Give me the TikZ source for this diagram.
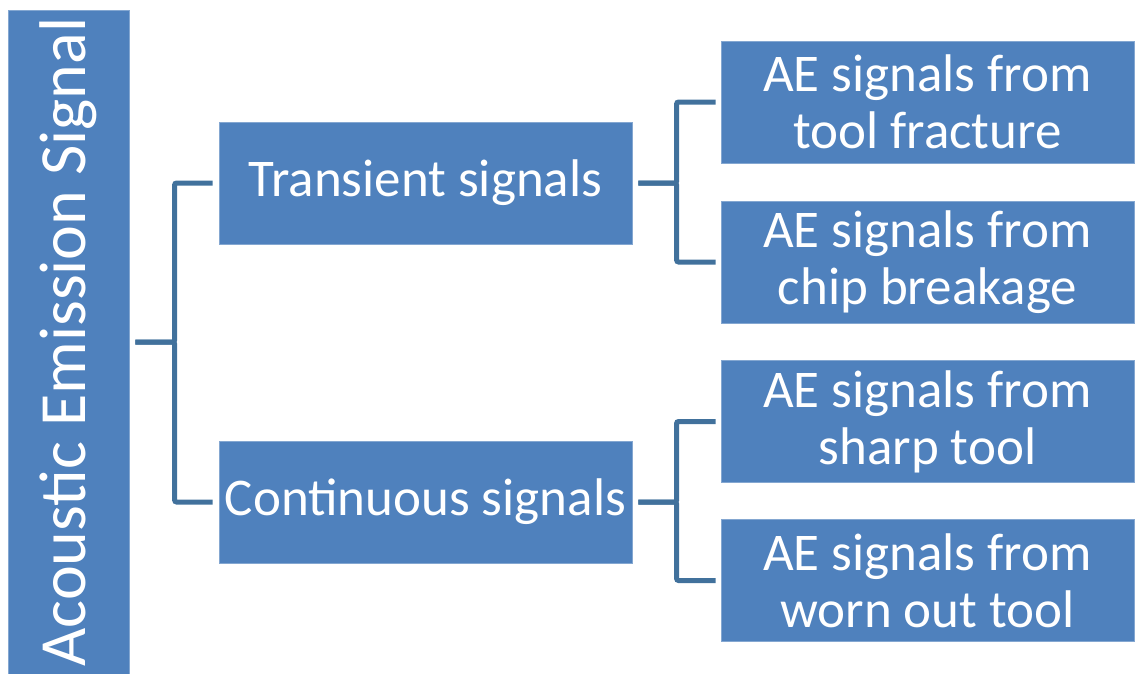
\documentclass[tikz,border=0pt]{standalone}
\usepackage{fontspec}
\setmainfont{Carlito}
\usepackage{xcolor}
\usetikzlibrary{positioning}
\definecolor{boxblue}{HTML}{4F81BD}
\definecolor{linkblue}{HTML}{41719C}

\begin{document}
\begin{tikzpicture}[
  x=1pt, y=-1pt,
  box/.style={fill=boxblue, draw=boxblue!70!white, line width=0.8pt, text=white, align=center,
    minimum width=413pt, minimum height=122pt, inner sep=0pt,
    font=\fontsize{53}{57}\selectfont},
  rootbox/.style={box, minimum width=121pt, minimum height=664pt,
    font=\fontsize{66}{70}\selectfont},
  link/.style={draw=linkblue, line width=5pt, rounded corners=2pt}
]
\useasboundingbox (0,0) rectangle (1136,673);

\node[rootbox] (sig) at (68.5,342) {\rotatebox{90}{Acoustic Emission Signal}};

\node[box] (trans) at (425.5,183) {Transient signals};
\node[box] (cont) at (425.5,502) {Continuous signals};

% Leaves
\node[box] (fract) at (927.5,102) {AE signals from\\tool fracture};
\node[box] (chip) at (927.5,262) {AE signals from\\chip breakage};
\node[box] (sharp) at (927.5,421.5) {AE signals from\\sharp tool};
\node[box] (worn) at (927.5,580.5) {AE signals from\\worn out tool};

\draw[link] ([xshift=6pt]sig.east) -| ([xshift=-44pt]trans.west) -- ([xshift=-6pt]trans.west);
\draw[link] ([xshift=6pt]sig.east) -| ([xshift=-44pt]cont.west) -- ([xshift=-6pt]cont.west);

\draw[link] ([xshift=6pt]trans.east) -| ([xshift=-44pt]fract.west) -- ([xshift=-5pt]fract.west);
\draw[link] ([xshift=6pt]trans.east) -| ([xshift=-44pt]chip.west) -- ([xshift=-5pt]chip.west);
\draw[link] ([xshift=6pt]cont.east) -| ([xshift=-44pt]sharp.west) -- ([xshift=-5pt]sharp.west);
\draw[link] ([xshift=6pt]cont.east) -| ([xshift=-44pt]worn.west) -- ([xshift=-5pt]worn.west);

\end{tikzpicture}
\end{document}
